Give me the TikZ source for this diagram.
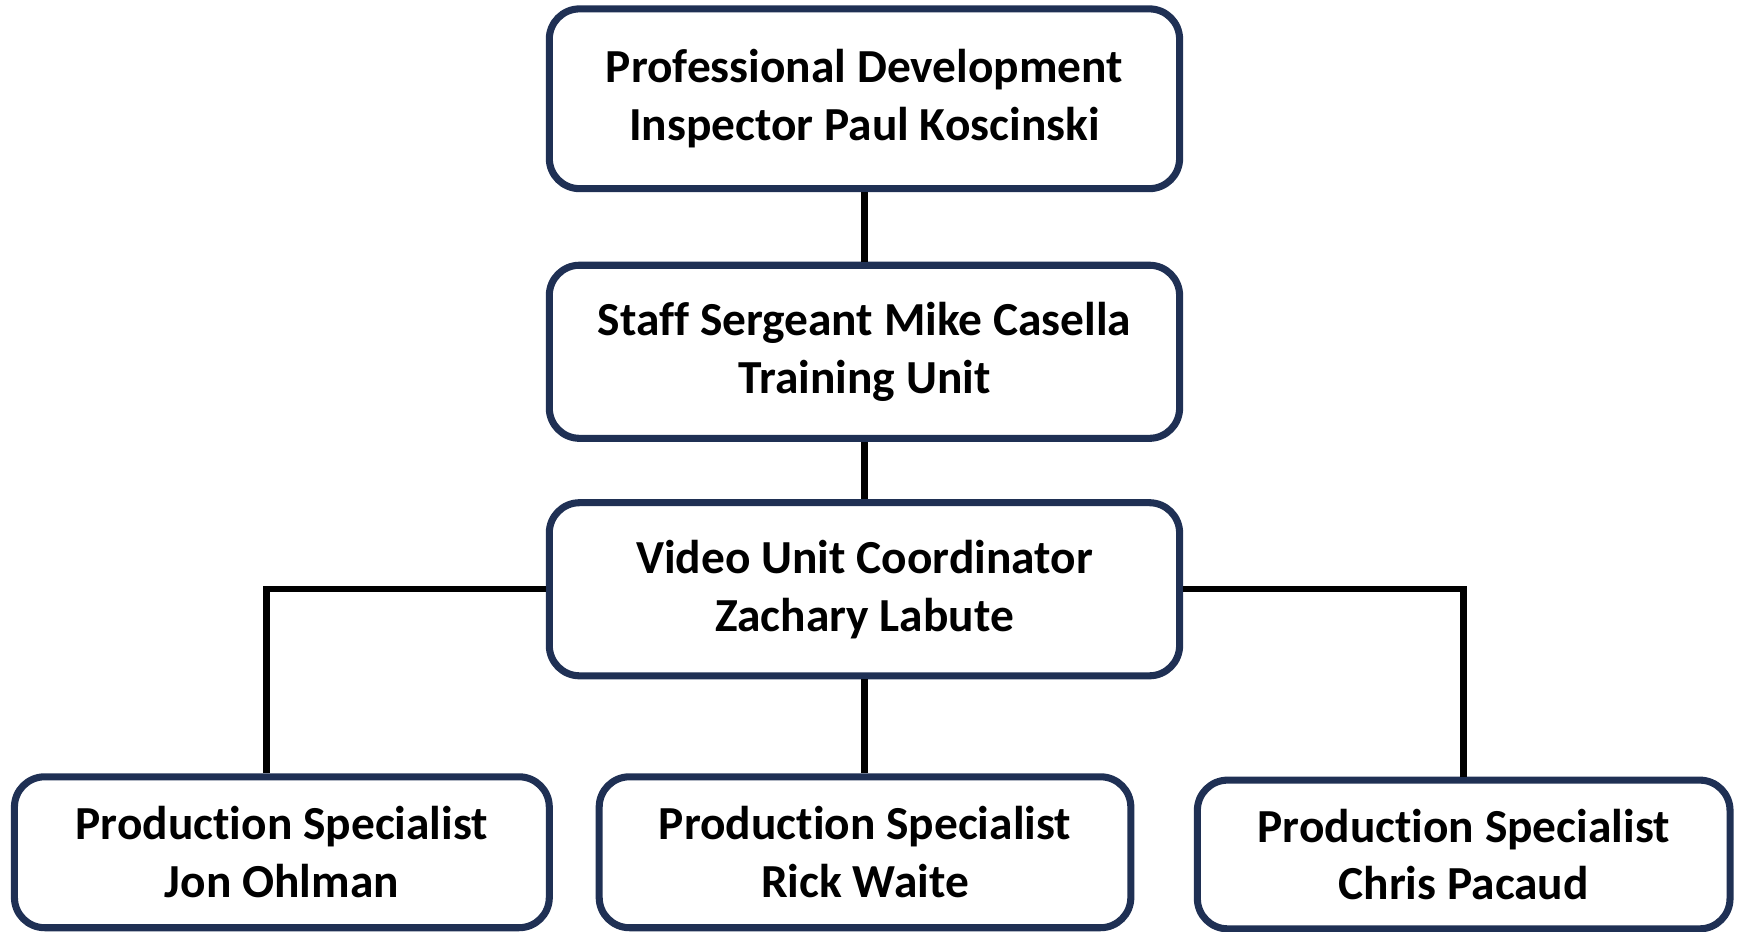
\documentclass[tikz,border=0pt]{standalone}
\usepackage{fontspec}
\setmainfont[Ligatures={NoCommon}]{Carlito}
\definecolor{navy}{RGB}{31,48,84}
\tikzset{
  box/.style={draw=navy, line width=3.5pt, rounded corners=15pt, fill=white,
    align=center, inner sep=0pt, font=\bfseries\fontsize{23.5}{28.6}\selectfont},
  link/.style={draw=black, line width=3.2pt}
}
\begin{document}
\begin{tikzpicture}[x=0.55pt, y=-0.55pt]
\useasboundingbox (0,0) rectangle (1568,839);
\node[box, minimum width=312.4pt, minimum height=89.1pt] (pd) at (779,89) {Professional Development\\Inspector Paul Koscinski};
\node[box, minimum width=312.4pt, minimum height=85.8pt] (ss) at (779,317) {Staff Sergeant Mike Casella\\Training Unit};
\node[box, minimum width=312.4pt, minimum height=85.8pt] (vc) at (779,531) {Video Unit Coordinator\\Zachary Labute};
\node[box, minimum width=265.1pt, minimum height=74.8pt] (jo) at (254,768) {Production Specialist\\Jon Ohlman};
\node[box, minimum width=263.5pt, minimum height=74.8pt] (rw) at (779.5,768) {Production Specialist\\Rick Waite};
\node[box, minimum width=264pt, minimum height=73.7pt] (cp) at (1319,770) {Production Specialist\\Chris Pacaud};
\coordinate (jotop) at ([xshift=-7.7pt]jo.north);
\draw[link] (pd.south) -- (ss.north);
\draw[link] (ss.south) -- (vc.north);
\draw[link] (vc.south) -- (vc.south |- rw.north);
\draw[link] (vc.west) -| (jotop);
\draw[link] (vc.east) -| (cp.north);
\end{tikzpicture}
\end{document}
